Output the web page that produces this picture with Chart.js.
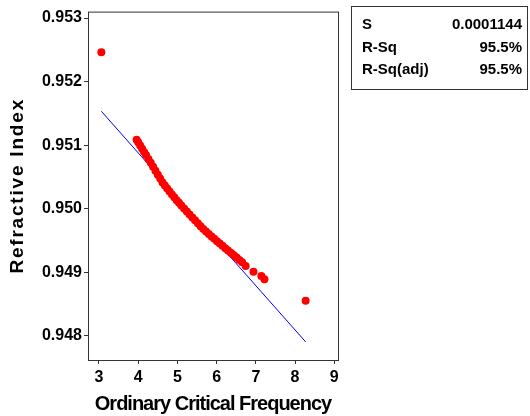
<!DOCTYPE html>
<html>
<head>
<meta charset="utf-8">
<script src="https://cdn.jsdelivr.net/npm/chart.js@4"></script>
<style>
  body { margin: 0; background: #fff; }
  #wrap { position: relative; width: 530px; height: 416px; }
  #stats {
    position: absolute; left: 351px; top: 6px; width: 175px; height: 76px;
    border: 1px solid #333; box-sizing: content-box;
    font: bold 15px "Liberation Sans", Arial, sans-serif; color: #000;
    padding-top: 6px; 
  }
  #stats .row { position: relative; height: 22.5px; line-height: 22.5px; }
  #stats .lab { position: absolute; left: 10px; }
  #stats .val { position: absolute; right: 5px; }
</style>
</head>
<body>
<div id="wrap">
  <canvas id="chart" width="530" height="416"></canvas>
  <div id="stats"></div>
</div>
<script>
// Data
const freq = [3.06,
  3.96, 4.00, 4.05, 4.10, 4.15, 4.20, 4.26, 4.32, 4.38, 4.44, 4.50, 4.56, 4.62,
  4.68, 4.74, 4.80, 4.86, 4.92, 4.98, 5.04, 5.10, 5.17, 5.24, 5.31, 5.38, 5.45,
  5.52, 5.59, 5.66, 5.73, 5.80, 5.87, 5.94, 6.01, 6.08, 6.15, 6.22, 6.29, 6.37,
  6.44, 6.51, 6.58, 6.65, 6.74, 6.94, 7.14, 7.22, 8.27];
const refIndex = [0.952460,
  0.951085, 0.951045, 0.950994, 0.950944, 0.950893, 0.950843, 0.950782, 0.950721,
  0.950659, 0.950597, 0.950535, 0.950473, 0.950410, 0.950363, 0.950317, 0.950271,
  0.950225, 0.950179, 0.950133, 0.950092, 0.950051, 0.950003, 0.949955, 0.949908,
  0.949862, 0.949816, 0.949770, 0.949724, 0.949679, 0.949639, 0.949602, 0.949564,
  0.949526, 0.949488, 0.949452, 0.949415, 0.949379, 0.949343, 0.949302, 0.949266,
  0.949230, 0.949193, 0.949157, 0.949097, 0.949008, 0.948941, 0.948890, 0.948552];

// regression line end points
const fitX = [3.06, 8.27];
const fitY = [0.951533, 0.947904];

const xTicks = [3, 4, 5, 6, 7, 8, 9];
const yTicks = [0.948, 0.949, 0.950, 0.951, 0.952, 0.953];

const statLabels = ["S", "R-Sq", "R-Sq(adj)"];
const statValues = ["0.0001144", "95.5%", "95.5%"];

// stats box
const statsEl = document.getElementById("stats");
statLabels.forEach(function(lab, i) {
  statsEl.innerHTML += '<div class="row"><span class="lab">' + lab +
    '</span><span class="val">' + statValues[i] + '</span></div>';
});

const FONT = '"Liberation Sans", Arial, sans-serif';

const framePlugin = {
  id: "frame",
  afterDraw(chart) {
    const a = chart.chartArea;
    const ctx = chart.ctx;
    ctx.save();
    ctx.strokeStyle = "#333";
    ctx.lineWidth = 1;
    ctx.strokeRect(a.left + 0.5, a.top + 0.5, a.right - a.left, a.bottom - a.top);

    ctx.fillStyle = "#000";
    // x title
    ctx.font = "bold 20px " + FONT;
    ctx.letterSpacing = "-1px";
    ctx.textAlign = "center";
    ctx.textBaseline = "alphabetic";
    ctx.fillText("Ordinary Critical Frequency", (a.left + a.right) / 2, 410);

    // y title
    ctx.font = "bold 19px " + FONT;
    ctx.letterSpacing = "1.8px";
    ctx.translate(18, (a.top + a.bottom) / 2);
    ctx.rotate(-Math.PI / 2);
    ctx.textBaseline = "middle";
    ctx.fillText("Refractive Index", 0, 0);
    ctx.restore();
  }
};

new Chart(document.getElementById("chart"), {
  data: {
    datasets: [{
      type: "scatter",
      data: freq.map((x, i) => ({x: x, y: refIndex[i]})),
      backgroundColor: "#ff0000",
      borderWidth: 0,
      pointRadius: 4,
      pointHoverRadius: 4
    }, {
      type: "line",
      data: fitX.map((x, i) => ({x: x, y: fitY[i]})),
      borderColor: "#0000ff",
      borderWidth: 1,
      pointRadius: 0,
      fill: false
    }]
  },
  options: {
    responsive: false,
    animation: false,
    devicePixelRatio: 1,
    layout: {padding: {left: 0, right: 192, top: 7, bottom: 0}},
    plugins: {legend: {display: false}, tooltip: {enabled: false}},
    scales: {
      x: {
        type: "linear",
        min: 2.72,
        max: 9.095,
        afterBuildTicks: s => { s.ticks = xTicks.map(v => ({value: v})); },
        afterFit: s => { s.height = 56; },
        grid: {drawOnChartArea: false, drawTicks: true, tickLength: 4, color: "#333"},
        border: {display: false},
        ticks: {
          padding: 4,
          color: "#000",
          font: {family: FONT, size: 16, weight: "bold"},
          maxRotation: 0,
          callback: v => String(v)
        }
      },
      y: {
        type: "linear",
        min: 0.947619,
        max: 0.953101,
        afterBuildTicks: s => { s.ticks = yTicks.map(v => ({value: v})); },
        afterFit: s => { s.width = 88; },
        grid: {drawOnChartArea: false, drawTicks: true, tickLength: 4, color: "#333"},
        border: {display: false},
        ticks: {
          padding: 2,
          color: "#000",
          font: {family: FONT, size: 16, weight: "bold"},
          callback: v => v.toFixed(3)
        }
      }
    }
  },
  plugins: [framePlugin]
});
</script>
</body>
</html>
